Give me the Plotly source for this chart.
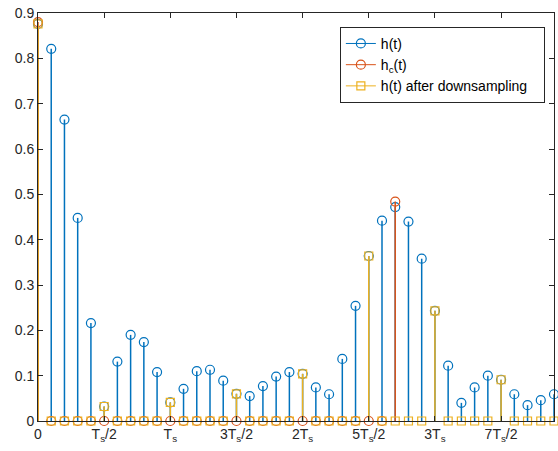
import plotly.graph_objects as go

# ---- data ----
n_idx = list(range(40))
h_vals = [0.876, 0.821, 0.665, 0.448, 0.216, 0.032, 0.131, 0.190, 0.174, 0.108,
          0.041, 0.071, 0.110, 0.113, 0.089, 0.060, 0.055, 0.077, 0.098, 0.108,
          0.104, 0.074, 0.059, 0.137, 0.254, 0.364, 0.442, 0.472, 0.440, 0.358,
          0.243, 0.122, 0.040, 0.074, 0.100, 0.091, 0.059, 0.035, 0.046, 0.059]
hc_idx = list(range(28))
hc_vals = [0.880] + [0.0] * 26 + [0.484]
hd_vals = [0.876, 0, 0, 0, 0, 0.032, 0, 0, 0, 0,
           0.041, 0, 0, 0, 0, 0.060, 0, 0, 0, 0,
           0.104, 0, 0, 0, 0, 0.364, 0, 0, 0, 0,
           0.243, 0, 0, 0, 0, 0.091, 0, 0, 0, 0]
tick_vals = [0, 5, 10, 15, 20, 25, 30, 35]
tick_text = ["0", "T<sub>s</sub>/2", "T<sub>s</sub>", "3T<sub>s</sub>/2", "2T<sub>s</sub>",
             "5T<sub>s</sub>/2", "3T<sub>s</sub>", "7T<sub>s</sub>/2"]
y_ticks = [0, 0.1, 0.2, 0.3, 0.4, 0.5, 0.6, 0.7, 0.8, 0.9]
y_tick_text = ["0", "0.1", "0.2", "0.3", "0.4", "0.5", "0.6", "0.7", "0.8", "0.9"]

BLUE = "#0072BD"
ORANGE = "#D95319"
YELLOW = "#EDB120"
FONT = "Liberation Sans, Arial, sans-serif"
NB = "\u00a0"

fig = go.Figure()


def add_stem(xs, ys, color, symbol, size, name):
    lx, ly = [], []
    for x, y in zip(xs, ys):
        lx += [x, x, None]
        ly += [0, y, None]
    fig.add_trace(go.Scatter(x=lx, y=ly, mode="lines", line=dict(color=color, width=1.5),
                             showlegend=False, hoverinfo="skip", cliponaxis=False))
    fig.add_trace(go.Scatter(x=xs, y=ys, mode="markers",
                             marker=dict(symbol=symbol, size=size, color=color,
                                         line=dict(color=color, width=1.2)),
                             showlegend=False, cliponaxis=False))
    fig.add_trace(go.Scatter(x=[None], y=[None], mode="lines+markers", name=name,
                             line=dict(color=color, width=1),
                             marker=dict(symbol=symbol, size=size, color=color,
                                         line=dict(color=color, width=1.2))))


add_stem(n_idx, h_vals, BLUE, "circle-open", 9, "h(t)")
add_stem(hc_idx, hc_vals, ORANGE, "circle-open", 9, "h<sub>c</sub>(t)")
add_stem(n_idx, hd_vals, YELLOW, "square-open", 8, "h(t) after downsampling" + NB * 3)

axis_common = dict(showgrid=False, zeroline=False, showline=True, linecolor="#262626",
                   linewidth=1, mirror="ticks", ticks="inside", ticklen=5,
                   tickcolor="#262626", automargin=False,
                   tickfont=dict(family=FONT, size=14, color="#262626"))

fig.update_xaxes(range=[0, 39], tickvals=tick_vals, ticktext=tick_text, **axis_common)
fig.update_yaxes(range=[0, 0.9], tickvals=y_ticks, ticktext=y_tick_text, **axis_common)

fig.update_layout(
    width=558, height=451,
    margin=dict(l=38, r=4, t=13, b=30),
    paper_bgcolor="white", plot_bgcolor="white",
    font=dict(family=FONT, size=14, color="#262626"),
    legend=dict(x=0.585, y=0.966, xanchor="left", yanchor="top",
                bgcolor="white", bordercolor="#262626", borderwidth=1,
                font=dict(family=FONT, size=14, color="#000000")),
)

fig.write_html("out.html", config={"displayModeBar": False},
               post_script="document.body.style.margin='0';document.body.style.overflow='hidden';")
